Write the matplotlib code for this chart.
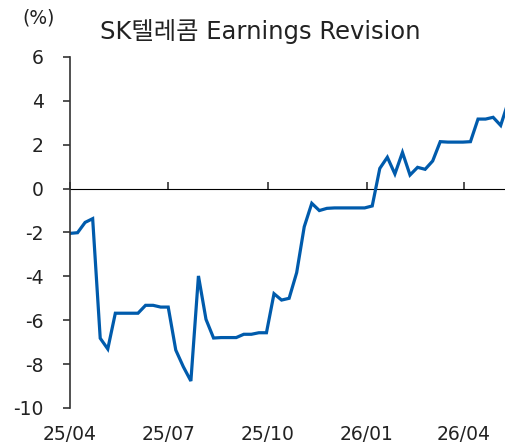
import numpy as np
import matplotlib
matplotlib.use("Agg")
import matplotlib.pyplot as plt
import matplotlib.dates as mdates

plt.rcParams['font.family'] = ['DejaVu Sans', 'Noto Sans CJK KR']

# Weekly revision values (%), starting 2025-04-01
start_date = np.datetime64('2025-04-01')
revision = [
    -2.04, -2.01, -1.54, -1.37, -6.82, -7.31, -5.68, -5.68, -5.68, -5.68,
    -5.32, -5.32, -5.40, -5.40, -7.36, -8.12, -8.77, -3.98, -5.96, -6.81,
    -6.79, -6.79, -6.79, -6.64, -6.64, -6.57, -6.57, -4.79, -5.08, -5.00,
    -3.83, -1.74, -0.67, -1.00, -0.90, -0.88, -0.88, -0.88, -0.88, -0.88,
    -0.79, 0.92, 1.43, 0.67, 1.65, 0.62, 0.97, 0.88, 1.26, 2.14,
    2.12, 2.12, 2.12, 2.14, 3.17, 3.17, 3.25, 2.88, 3.95,
]
dates = start_date + np.arange(len(revision)) * np.timedelta64(7, 'D')

tick_dates = ['2025-04-01', '2025-07-01', '2025-10-01', '2026-01-01', '2026-04-01']
tick_labels = ['25/04', '25/07', '25/10', '26/01', '26/04']
y_ticks = [6, 4, 2, 0, -2, -4, -6, -8, -10]

fig = plt.figure(figsize=(5.05, 4.48), dpi=100)
ax = fig.add_axes([0.1386, 0.0893, 0.8614, 0.7835])

ax.plot(dates, revision, color='#005BAC', linewidth=2.3, solid_joinstyle='miter')

ax.set_ylim(-10, 6)
ax.set_xlim(np.datetime64('2025-04-01'), np.datetime64('2026-05-09'))
ax.set_yticks(y_ticks)
ax.set_yticklabels([str(v) for v in y_ticks])

for side in ['top', 'right', 'bottom']:
    ax.spines[side].set_visible(False)
ax.spines['left'].set_color('#333333')
ax.spines['left'].set_linewidth(1.2)

tick_nums = mdates.date2num(np.array(tick_dates, dtype='datetime64[D]'))
ax.set_xticks(tick_nums)
ax.set_xticklabels(tick_labels)
ax.tick_params(axis='x', length=0, pad=12, labelsize=13.5, colors='#222222')
ax.tick_params(axis='y', length=5, width=1.2, pad=14, labelsize=13.5,
               direction='out', colors='#333333', labelcolor='#222222')

# x axis line drawn at zero
zero_frac = (0 - (-10)) / (6 - (-10))
sec = ax.secondary_xaxis(zero_frac)
sec.set_xticks(tick_nums)
sec.set_xticklabels([])
sec.spines['bottom'].set_color('#333333')
sec.spines['bottom'].set_linewidth(1.2)
sec.tick_params(axis='x', length=5, width=1.2, direction='out', colors='#333333')

fig.text(0.515, 0.929, 'SK텔레콤 Earnings Revision', ha='center', va='center',
         fontsize=17.5, color='#222222')
fig.text(0.076, 0.959, '(%)', ha='center', va='center', fontsize=13.5, color='#222222')

fig.savefig('out.png', dpi=100)
